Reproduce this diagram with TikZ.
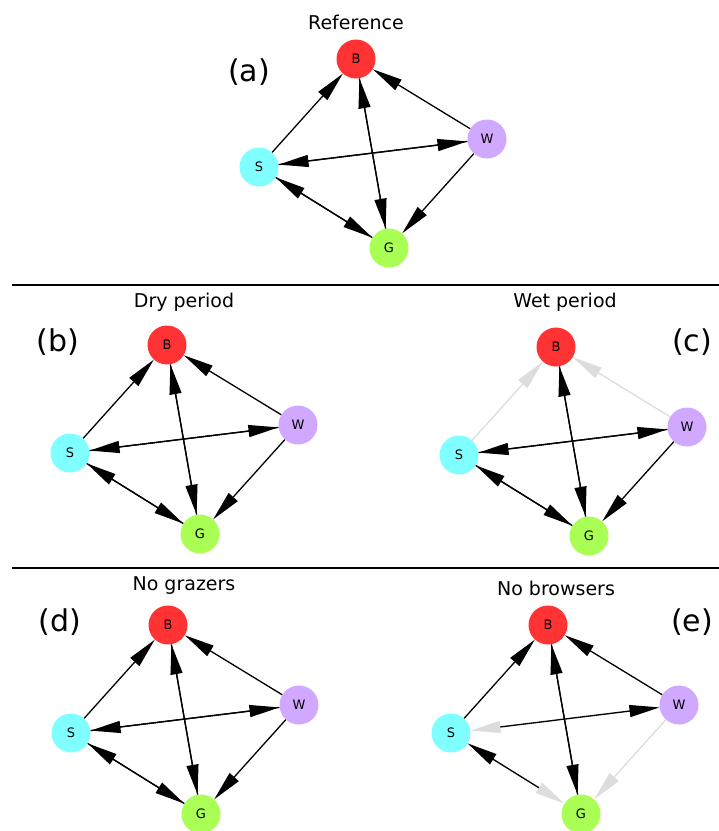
\documentclass[tikz,border=0pt]{standalone}
\usepackage{fontspec}
\setmainfont{DejaVu Sans}
\usetikzlibrary{arrows.meta}
\definecolor{browsecol}{HTML}{FF3333}
\definecolor{woodcol}{HTML}{D0A8FF}
\definecolor{shrubcol}{HTML}{7FFFFF}
\definecolor{grazecol}{HTML}{AAFF55}
\definecolor{fadecol}{HTML}{DDDDDD}
\begin{document}
\begin{tikzpicture}
  [x=1pt,y=-1pt,
   species/.style={circle,minimum size=39pt,inner sep=0pt,font=\fontsize{13}{15}\selectfont},
   title/.style={font=\fontsize{19}{22}\selectfont},
   tag/.style={font=\fontsize{30}{34}\selectfont},
   link/.style={line width=1.3pt,-{Triangle[length=30pt,width=12pt]}},
   faded/.style={link,draw=fadecol,fill=fadecol}]
  \useasboundingbox (0,0) rectangle (719,831);

  % the five food webs
  \foreach \p/\x/\y in {a/356/59,b/167/345,c/556/347,d/168/625,e/548/625}{
    \node[species,fill=browsecol] (B\p) at (\x,\y) {B};
    \node[species,fill=woodcol] (W\p) at (\x+131,\y+80) {W};
    \node[species,fill=shrubcol] (S\p) at (\x-97,\y+108) {S};
    \node[species,fill=grazecol] (G\p) at (\x+33,\y+189) {G};
  }

  \node[title] (ta) at (356,22) {Reference};
  \node[title] (tb) at (184,302) {Dry period};
  \node[title] (tc) at (565,302) {Wet period};
  \node[title] (td) at (184,586) {No grazers};
  \node[title] (te) at (556,588) {No browsers};

  \node[tag] (la) at (249,72) {(a)};
  \node[tag] (lb) at (58,342) {(b)};
  \node[tag] (lc) at (692,342) {(c)};
  \node[tag] (ld) at (60,622) {(d)};
  \node[tag] (le) at (692,622) {(e)};

  \draw[line width=1.3pt] (12,285) -- (719,285);
  \draw[line width=1.3pt] (12,568) -- (719,568);

  % links that vanish
  \foreach \from/\to in {Sc/Bc,Wc/Bc,We/Se,Se/Ge,We/Ge}
    \draw[faded] (\from) -- (\to);

  % links that stay
  \foreach \from/\to in {Sa/Ba,Wa/Ba,Sa/Wa,Wa/Sa,Ba/Ga,Ga/Ba,Sa/Ga,Ga/Sa,Wa/Ga,
  Sb/Bb,Wb/Bb,Sb/Wb,Wb/Sb,Bb/Gb,Gb/Bb,Sb/Gb,Gb/Sb,Wb/Gb,
  Sc/Wc,Wc/Sc,Bc/Gc,Gc/Bc,Sc/Gc,Gc/Sc,Wc/Gc,
  Sd/Bd,Wd/Bd,Sd/Wd,Wd/Sd,Bd/Gd,Gd/Bd,Sd/Gd,Gd/Sd,Wd/Gd,
  Se/Be,We/Be,Be/Ge,Ge/Be}
    \draw[link] (\from) -- (\to);
  \draw[link,shorten <=30pt] (Se) -- (We);
  \draw[link,shorten <=30pt] (Ge) -- (Se);

\end{tikzpicture}
\end{document}
